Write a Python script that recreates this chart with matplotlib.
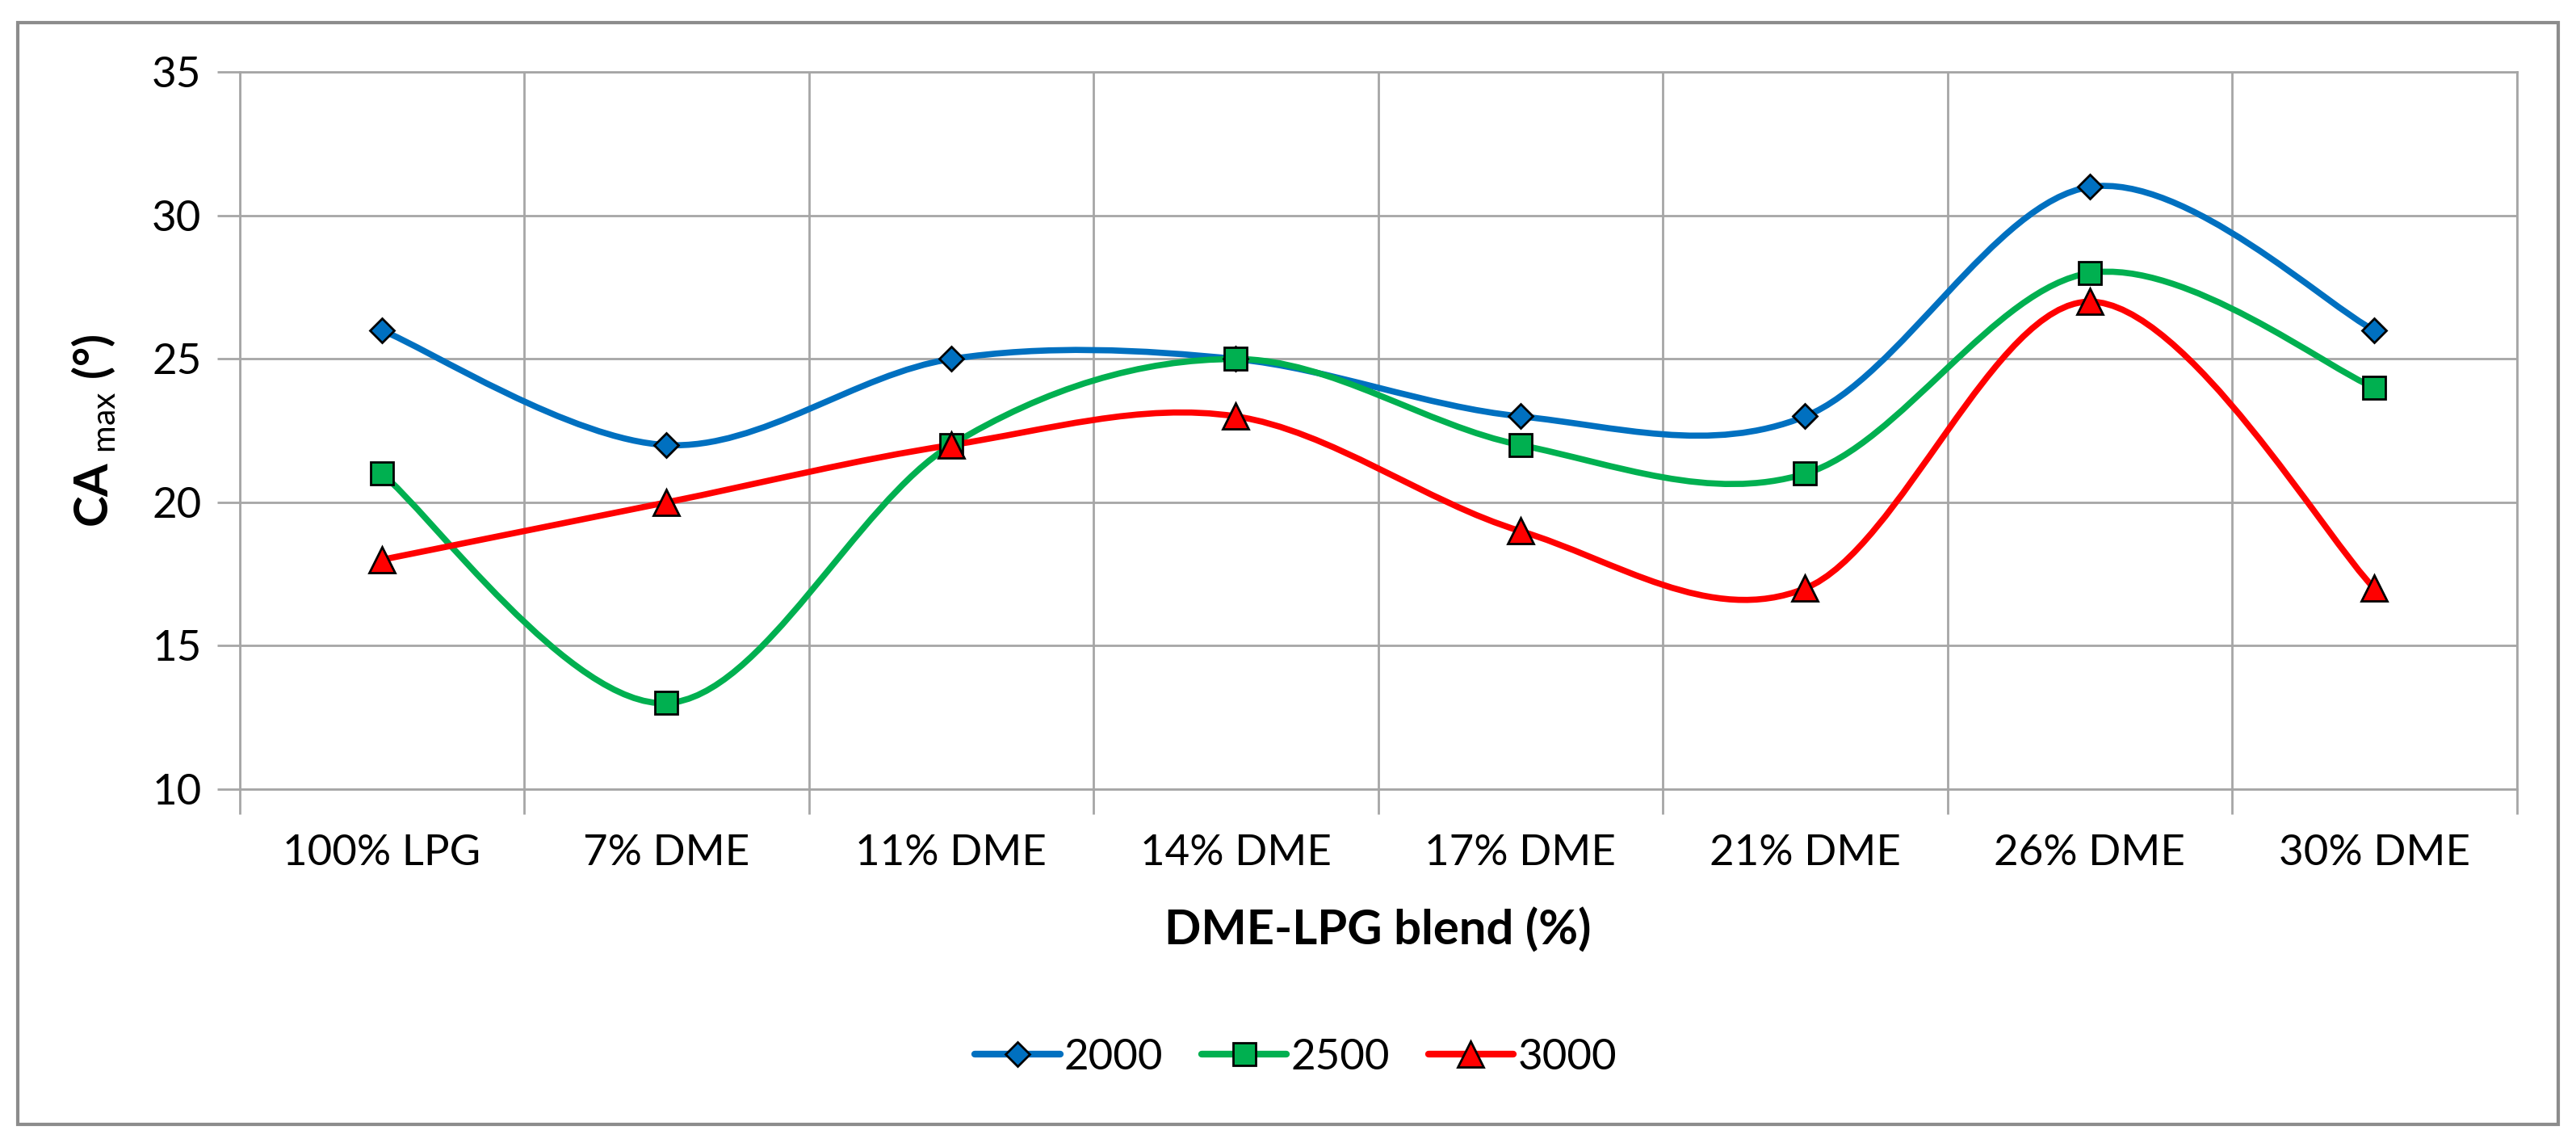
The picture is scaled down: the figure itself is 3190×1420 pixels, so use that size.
import matplotlib
matplotlib.use('Agg')
import matplotlib.pyplot as plt
import numpy as np
from matplotlib.path import Path
from matplotlib.patches import PathPatch, Rectangle
from matplotlib.lines import Line2D

plt.rcParams['font.family'] = ['Lato', 'DejaVu Sans']
plt.rcParams['mathtext.fontset'] = 'custom'
plt.rcParams['mathtext.rm'] = 'Lato'
plt.rcParams['mathtext.bf'] = 'Lato:bold'

#categories and values
blends = ["100% LPG", "7% DME", "11% DME", "14% DME", "17% DME", "21% DME", "26% DME", "30% DME"]
rpm_2000 = [26, 22, 25, 25, 23, 23, 31, 26]
rpm_2500 = [21, 13, 22, 25, 22, 21, 28, 24]
rpm_3000 = [18, 20, 22, 23, 19, 17, 27, 17]

series = [("2000", rpm_2000, '#0070C0', 'D', 15),
          ("2500", rpm_2500, '#00B050', 's', 20),
          ("3000", rpm_3000, '#FF0000', '^', 23)]

grid_col = '#A6A6A6'


def smooth_path(x, y):
    #bezier path through the points, like excel "smoothed line"
    pts = np.column_stack([x, y]).astype(float)
    n = len(pts)
    verts = [pts[0]]
    codes = [Path.MOVETO]
    for i in range(n - 1):
        p0 = pts[max(i - 1, 0)]
        p1 = pts[i]
        p2 = pts[i + 1]
        p3 = pts[min(i + 2, n - 1)]
        c1 = p1 + (p2 - p0) / 6.0
        c2 = p2 - (p3 - p1) / 6.0
        verts += [c1, c2, p2]
        codes += [Path.CURVE4] * 3
    return Path(verts, codes)


fig = plt.figure(figsize=(31.9, 14.2), dpi=100)
ax = fig.add_axes([0.093, 0.312, 0.884, 0.625])

x = np.arange(len(blends))
handles = []
for name, vals, col, mk, ms in series:
    ax.add_patch(PathPatch(smooth_path(x, vals), fill=False, edgecolor=col,
                           linewidth=5.5, capstyle='round', zorder=3))
    ax.plot(x, vals, linestyle='none', marker=mk, markersize=ms,
            markerfacecolor=col, markeredgecolor='black', markeredgewidth=2, zorder=4)
    handles.append(Line2D([], [], color=col, linewidth=6, marker=mk, markersize=ms,
                          markerfacecolor=col, markeredgecolor='black', markeredgewidth=2,
                          solid_capstyle='round'))

ax.set_xlim(-0.5, len(blends) - 0.5)
ax.set_ylim(10, 35)
ax.set_yticks(np.arange(10, 36, 5))
ax.set_xticks(x)
ax.set_xticklabels(blends)
ax.set_xticks(np.arange(-0.5, len(blends), 1), minor=True)

ax.grid(True, which='major', axis='y', color=grid_col, linewidth=2)
ax.grid(True, which='minor', axis='x', color=grid_col, linewidth=2)
ax.set_axisbelow(True)
for s in ax.spines.values():
    s.set_color(grid_col)
    s.set_linewidth(2)

ax.tick_params(axis='y', which='major', length=20, width=2, color=grid_col,
               labelsize=38, pad=14)
ax.tick_params(axis='x', which='major', length=0, labelsize=38, pad=40)
ax.tick_params(axis='x', which='minor', length=22, width=2, color=grid_col)

ax.set_xlabel("DME-LPG blend (%)", fontsize=43, fontweight='bold', labelpad=32)
ax.set_ylabel(r'$\mathbf{CA}_{\ \mathrm{max}}$' + ' (°)', fontsize=42,
              fontweight='bold', labelpad=30)

fig.legend(handles, [s[0] for s in series], loc='center', bbox_to_anchor=(0.503, 0.078),
           ncol=3, frameon=False, fontsize=38, handlelength=2.0, handletextpad=0.1,
           columnspacing=0.9)

#outer border of the chart
fig.patches.append(Rectangle((0.007, 0.02), 0.986, 0.96, transform=fig.transFigure,
                             fill=False, edgecolor='#8C8C8C', linewidth=3))

fig.savefig('out.png', dpi=100)
